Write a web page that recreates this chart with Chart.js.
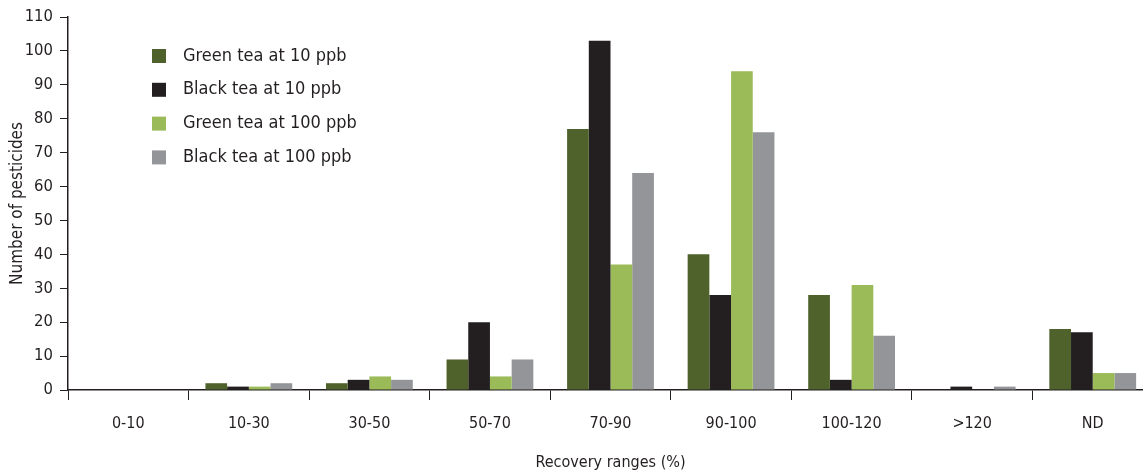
<!DOCTYPE html>
<html>
<head>
<meta charset="utf-8">
<script src="https://cdn.jsdelivr.net/npm/chart.js@4.4.1/dist/chart.umd.min.js"></script>
<style>
html, body { margin: 0; padding: 0; background: #fff; overflow: hidden; }
#wrap { width: 1143px; height: 474px; overflow: hidden; }
</style>
</head>
<body>
<div id="wrap"><canvas id="myChart1" width="1160" height="474"></canvas></div>
<script>
var categories = ["0-10", "10-30", "30-50", "50-70", "70-90", "90-100", "100-120", ">120", "ND"];
var greenTea10 = [0, 2, 2, 9, 77, 40, 28, 0, 18];
var blackTea10 = [0, 1, 3, 20, 103, 28, 3, 1, 17];
var greenTea100 = [0, 1, 4, 4, 37, 94, 31, 0, 5];
var blackTea100 = [0, 2, 3, 9, 64, 76, 16, 1, 5];
var yTicks = [0, 10, 20, 30, 40, 50, 60, 70, 80, 90, 100, 110];

var FONT = "'Liberation Sans Narrow', 'DejaVu Sans Condensed', 'Roboto', sans-serif";
var INK = '#231f20';

// legend drawn inside the plot, top left
var innerLegend = {
  id: 'innerLegend',
  afterDraw: function(chart) {
    var c = chart.ctx;
    c.save();
    c.font = '18px ' + FONT;
    c.textBaseline = 'middle';
    chart.data.datasets.forEach(function(ds, i) {
      var y = 56 + i * 33.8;
      c.fillStyle = ds.backgroundColor;
      c.fillRect(152, y - 7, 14, 14);
      c.fillStyle = INK;
      c.fillText(ds.label, 183, y);
    });
    c.restore();
  }
};

var ctx = document.getElementById("myChart1").getContext('2d');
var myChart1 = new Chart(ctx, {
  type: 'bar',
  plugins: [innerLegend],
  data: {
    labels: categories,
    datasets: [
      { label: 'Green tea at 10 ppb', data: greenTea10, backgroundColor: '#4f622b' },
      { label: 'Black tea at 10 ppb', data: blackTea10, backgroundColor: '#231f20' },
      { label: 'Green tea at 100 ppb', data: greenTea100, backgroundColor: '#9bbb59' },
      { label: 'Black tea at 100 ppb', data: blackTea100, backgroundColor: '#939598' }
    ]
  },
  options: {
    responsive: false,
    animation: false,
    categoryPercentage: 0.72,
    barPercentage: 1.0,
    layout: { padding: { top: 17, right: 7, left: 0, bottom: 0 } },
    plugins: {
      legend: { display: false },
      tooltip: { enabled: false }
    },
    scales: {
      x: {
        offset: true,
        grid: { offset: true, drawOnChartArea: false, drawTicks: true, tickLength: 10, color: INK, lineWidth: 1 },
        border: { display: true, color: INK, width: 1.5 },
        ticks: { color: INK, font: { family: FONT, size: 16 }, padding: 14, maxRotation: 0 },
        title: { display: true, text: 'Recovery ranges (%)', color: INK, font: { family: FONT, size: 16 }, padding: { top: 0, bottom: 2 } },
        afterFit: function(axis) { axis.height = 84; }
      },
      y: {
        min: 0,
        max: 110,
        afterBuildTicks: function(axis) { axis.ticks = yTicks.map(function(v) { return { value: v }; }); },
        grid: { drawOnChartArea: false, drawTicks: true, tickLength: 8, color: INK, lineWidth: 1 },
        border: { display: true, color: INK, width: 1.5 },
        ticks: { color: INK, font: { family: FONT, size: 16.5 }, padding: 7 },
        title: { display: true, text: 'Number of pesticides', color: INK, font: { family: FONT, size: 17 }, padding: { top: 7, bottom: 0 } },
        afterFit: function(axis) { axis.width = 68; }
      }
    }
  }
});
</script>
</body>
</html>
